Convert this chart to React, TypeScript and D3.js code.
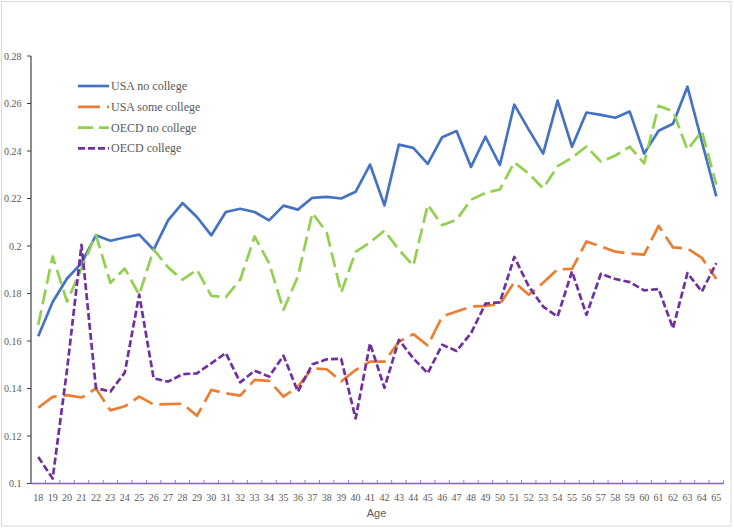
import React, { useEffect } from "react";
import * as d3 from "d3";

const ages: number[] = [
  18, 19, 20, 21, 22, 23, 24, 25, 26, 27, 28, 29, 30, 31, 32, 33, 34, 35, 36, 37, 38, 39, 40, 41,
  42, 43, 44, 45, 46, 47, 48, 49, 50, 51, 52, 53, 54, 55, 56, 57, 58, 59, 60, 61, 62, 63, 64, 65,
];

const usaNoCollege: number[] = [
  0.162, 0.1764, 0.1863, 0.1928, 0.2045, 0.2022, 0.2036, 0.2048, 0.1984, 0.2108, 0.2181, 0.2122,
  0.2045, 0.2143, 0.2157, 0.2143, 0.2108, 0.217, 0.2153, 0.2203, 0.2207, 0.22, 0.2228, 0.2343,
  0.2171, 0.2427, 0.2413, 0.2346, 0.2458, 0.2484, 0.2333, 0.246, 0.2341, 0.2595, 0.249, 0.2389,
  0.2612, 0.2418, 0.2562, 0.2552, 0.254, 0.2566, 0.2389, 0.2485, 0.2515, 0.2671, 0.244, 0.2209,
];

const usaSomeCollege: number[] = [
  0.1319, 0.1365, 0.1372, 0.1362, 0.14, 0.1308, 0.1325, 0.1366, 0.1333, 0.1334, 0.1336, 0.1285,
  0.1394, 0.138, 0.137, 0.1436, 0.1432, 0.1366, 0.1408, 0.1485, 0.1481, 0.143, 0.1478, 0.1513,
  0.1513, 0.1597, 0.1629, 0.1581, 0.1703, 0.1724, 0.1745, 0.1748, 0.1755, 0.1848, 0.1795, 0.1845,
  0.1902, 0.1904, 0.2019, 0.1998, 0.1976, 0.1968, 0.1964, 0.2085, 0.1994, 0.1989, 0.195, 0.1861,
];

const oecdNoCollege: number[] = [
  0.1668, 0.1956, 0.1766, 0.1905, 0.2047, 0.1845, 0.1905, 0.1795, 0.1985, 0.191, 0.1858, 0.19,
  0.179, 0.1785, 0.1858, 0.204, 0.1928, 0.1731, 0.1872, 0.2139, 0.2057, 0.1804, 0.1975, 0.2015,
  0.2065, 0.1984, 0.1917, 0.2174, 0.2087, 0.2111, 0.2195, 0.2224, 0.2238, 0.2352, 0.2305, 0.2243,
  0.2336, 0.2372, 0.2419, 0.2355, 0.2381, 0.2418, 0.2348, 0.259, 0.2568, 0.2405, 0.2483, 0.2258,
];

const oecdCollege: number[] = [
  0.1112, 0.1021, 0.148, 0.2005, 0.1402, 0.1387, 0.1467, 0.1795, 0.1443, 0.1429, 0.146, 0.1464,
  0.1506, 0.1549, 0.1426, 0.1475, 0.145, 0.1538, 0.1387, 0.1502, 0.1523, 0.1525, 0.1274, 0.159,
  0.1403, 0.1605, 0.1527, 0.1464, 0.1584, 0.1558, 0.1633, 0.1757, 0.1763, 0.1954, 0.183, 0.1745,
  0.1703, 0.1893, 0.171, 0.1883, 0.1861, 0.1848, 0.1813, 0.1819, 0.1654, 0.1886, 0.1808, 0.1928,
];

const yTicks: number[] = [0.1, 0.12, 0.14, 0.16, 0.18, 0.2, 0.22, 0.24, 0.26, 0.28];
const yTickLabels: string[] = ["0.1", "0.12", "0.14", "0.16", "0.18", "0.2", "0.22", "0.24", "0.26", "0.28"];

const seriesNames: string[] = ["USA no college", "USA some college", "OECD no college", "OECD college"];
const seriesColors: string[] = ["#4472C4", "#ED7D31", "#92D050", "#7030A0"];
const seriesDash: string[] = ["none", "22,7", "15,6", "7,3"];
const seriesValues: number[][] = [usaNoCollege, usaSomeCollege, oecdNoCollege, oecdCollege];

const W = 734;
const H = 529;

export default function App() {
  useEffect(() => {
    document.body.style.margin = "0";
  }, []);

  const x = d3
    .scaleBand<number>()
    .domain(ages)
    .range([31, 723.5])
    .paddingInner(0)
    .paddingOuter(0);
  const y = d3.scaleLinear().domain([0.1, 0.28]).range([483.5, 56]);
  const cx = (a: number) => (x(a) as number) + x.bandwidth() / 2;

  const line = d3
    .line<number>()
    .x((_, i) => cx(ages[i]))
    .y((d) => y(d));

  const boundaries = ages.map((a) => x(a) as number).concat([(x(ages[ages.length - 1]) as number) + x.bandwidth()]);

  const serif = "'Liberation Serif', 'Times New Roman', serif";

  return (
    <svg
      width={W}
      height={H}
      style={{ position: "absolute", left: 0, top: 0, display: "block", background: "#fff" }}
    >
      <rect x={1.5} y={1.5} width={729.5} height={524.5} fill="#fff" stroke="#D9D9D9" strokeWidth={1} />

      {/* y axis */}
      <line x1={31} x2={31} y1={y(0.28)} y2={y(0.1)} stroke="#404040" strokeWidth={1.2} />
      {yTicks.map((t, i) => (
        <g key={"yt" + i}>
          <line x1={27} x2={31} y1={y(t)} y2={y(t)} stroke="#404040" strokeWidth={1} />
          <text
            x={21.5}
            y={y(t)}
            textAnchor="end"
            dominantBaseline="central"
            fontFamily={serif}
            fontSize={10}
            fill="#595959"
          >
            {yTickLabels[i]}
          </text>
        </g>
      ))}

      {/* x axis */}
      {boundaries.map((b, i) => (
        <line key={"xt" + i} x1={b} x2={b} y1={y(0.1) - 3.5} y2={y(0.1)} stroke="#9B7BD4" strokeWidth={1} />
      ))}
      <line x1={31} x2={723.5} y1={y(0.1)} y2={y(0.1)} stroke="#8A5CCC" strokeWidth={1.5} />
      {ages.map((a) => (
        <text
          key={"xl" + a}
          x={cx(a)}
          y={497}
          textAnchor="middle"
          dominantBaseline="central"
          fontFamily={serif}
          fontSize={10}
          fill="#595959"
        >
          {a}
        </text>
      ))}
      <text
        x={376.5}
        y={513}
        textAnchor="middle"
        dominantBaseline="central"
        fontFamily="'Liberation Sans', Arial, sans-serif"
        fontSize={11}
        fill="#595959"
      >
        Age
      </text>

      {/* series */}
      {seriesValues.map((vals, i) => (
        <path
          key={"s" + i}
          d={line(vals) || ""}
          fill="none"
          stroke={seriesColors[i]}
          strokeWidth={2.7}
          strokeDasharray={seriesDash[i]}
          strokeLinejoin="round"
        />
      ))}

      {/* legend */}
      {seriesNames.map((n, i) => {
        const ly = 86 + i * 20.8;
        return (
          <g key={"lg" + i}>
            <line
              x1={78}
              x2={109}
              y1={ly}
              y2={ly}
              stroke={seriesColors[i]}
              strokeWidth={2.7}
              strokeDasharray={seriesDash[i]}
            />
            <text
              x={111}
              y={ly}
              dominantBaseline="central"
              fontFamily={serif}
              fontSize={12}
              fill="#595959"
            >
              {n}
            </text>
          </g>
        );
      })}
    </svg>
  );
}
